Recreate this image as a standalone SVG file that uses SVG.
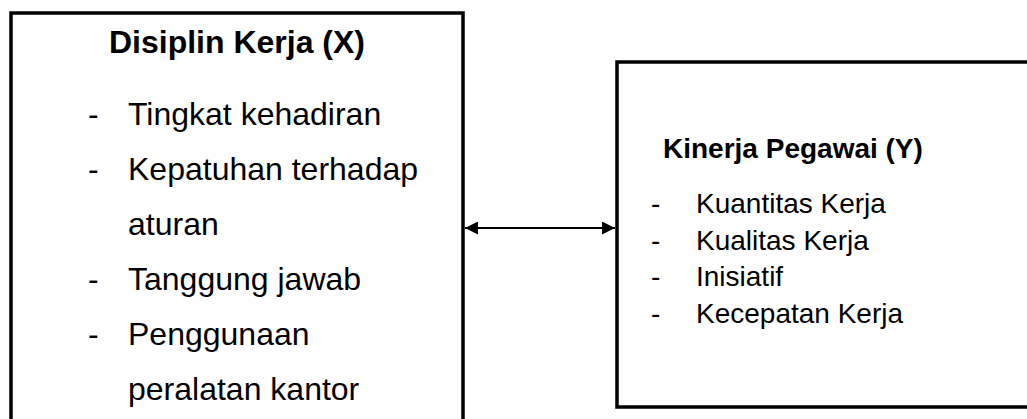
<svg xmlns="http://www.w3.org/2000/svg" width="1027" height="419" viewBox="0 0 1027 419">
<style>
.box{fill:#fff;stroke:#000;stroke-width:3.5}
.t{font-family:"Liberation Sans",Arial,sans-serif;fill:#000}
.b{font-weight:bold}
.l1{font-size:32px}
.l2{font-size:28px}
.con{stroke:#000;stroke-width:2;fill:none}
</style>
<defs>
<marker id="ah" viewBox="0 0 10 10" refX="10" refY="5" markerWidth="16" markerHeight="13" markerUnits="userSpaceOnUse" orient="auto-start-reverse">
<path d="M0,0 L10,5 L0,10 z" fill="#000"/>
</marker>
</defs>
<rect width="1027" height="419" fill="#fff"/>
<g id="node-x">
<rect class="box" x="11" y="13" width="452" height="430"/>
<text class="t b l1" x="237" y="53" text-anchor="middle">Disiplin Kerja (X)</text>
<g class="t l1">
<text x="88" y="125">-</text><text x="128" y="125">Tingkat kehadiran</text>
<text x="88" y="180">-</text><text x="128" y="180">Kepatuhan terhadap</text>
<text x="128" y="235">aturan</text>
<text x="88" y="290">-</text><text x="128" y="290">Tanggung jawab</text>
<text x="88" y="345">-</text><text x="128" y="345">Penggunaan</text>
<text x="128" y="400">peralatan kantor</text>
</g>
</g>
<g id="node-y">
<rect class="box" x="617" y="62" width="430" height="345"/>
<text class="t b l2" x="663" y="158">Kinerja Pegawai (Y)</text>
<g class="t l2">
<text x="651" y="213">-</text><text x="696" y="213">Kuantitas Kerja</text>
<text x="651" y="249.7">-</text><text x="696" y="249.7">Kualitas Kerja</text>
<text x="651" y="286.3">-</text><text x="696" y="286.3">Inisiatif</text>
<text x="651" y="323">-</text><text x="696" y="323">Kecepatan Kerja</text>
</g>
</g>
<g id="connectors">
<line class="con" x1="465" y1="228" x2="615" y2="228" marker-start="url(#ah)" marker-end="url(#ah)"/>
</g>
</svg>
